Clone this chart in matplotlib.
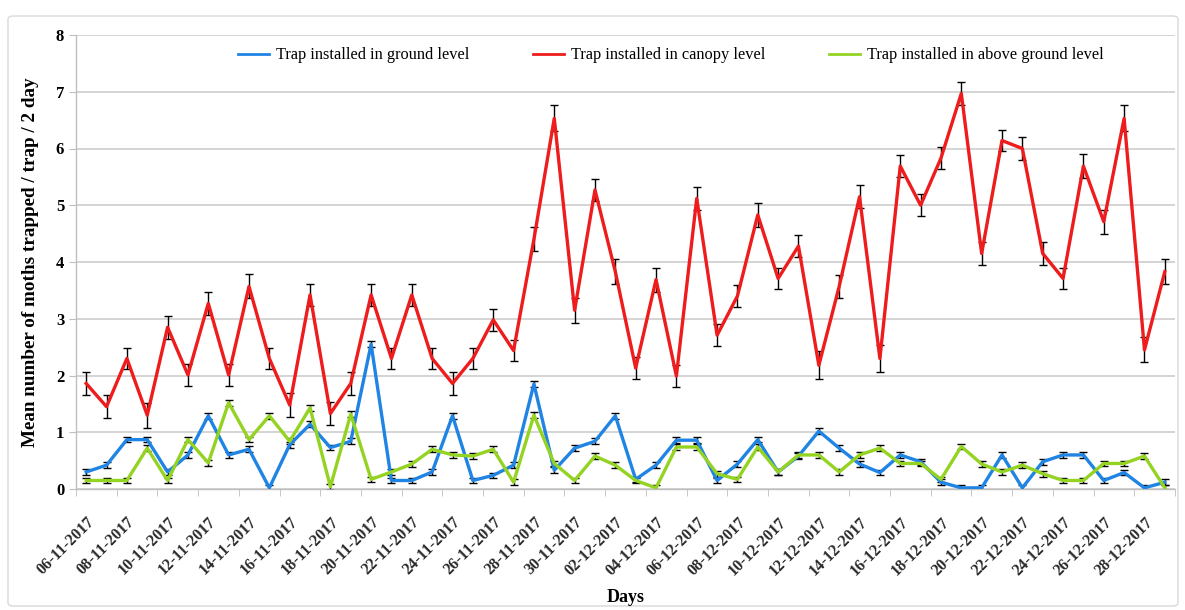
import numpy as np
import matplotlib
matplotlib.use("Agg")
import matplotlib.pyplot as plt
from matplotlib.patches import FancyBboxPatch
from matplotlib.lines import Line2D
import datetime as dt

# ---- data ----
start = dt.date(2017, 11, 6)
days = [(start + dt.timedelta(days=i)).strftime("%d-%m-%Y") for i in range(54)]

ground = [0.30, 0.42, 0.87, 0.87, 0.30, 0.60, 1.29, 0.60, 0.70, 0.02,
          0.78, 1.14, 0.73, 0.84, 2.55, 0.15, 0.15, 0.30, 1.29, 0.15,
          0.24, 0.42, 1.85, 0.33, 0.72, 0.84, 1.29, 0.17, 0.42, 0.86,
          0.86, 0.15, 0.44, 0.87, 0.30, 0.58, 1.02, 0.72, 0.44, 0.29,
          0.60, 0.48, 0.12, 0.02, 0.02, 0.60, 0.02, 0.48, 0.60, 0.60,
          0.15, 0.29, 0.02, 0.12]
canopy = [1.86, 1.45, 2.30, 1.30, 2.85, 2.01, 3.27, 2.01, 3.57, 2.30,
          1.48, 3.42, 1.33, 1.86, 3.42, 2.30, 3.42, 2.30, 1.86, 2.30,
          2.98, 2.44, 4.40, 6.53, 3.15, 5.27, 3.83, 2.13, 3.69, 1.99,
          5.12, 2.71, 3.40, 4.83, 3.71, 4.28, 2.18, 3.57, 5.15, 2.30,
          5.69, 5.00, 5.83, 6.97, 4.15, 6.14, 6.00, 4.15, 3.71, 5.69,
          4.71, 6.53, 2.45, 3.83]
above = [0.15, 0.15, 0.15, 0.72, 0.15, 0.87, 0.46, 1.52, 0.87, 1.29,
         0.84, 1.43, 0.04, 1.32, 0.17, 0.30, 0.44, 0.70, 0.60, 0.58,
         0.70, 0.12, 1.30, 0.45, 0.15, 0.58, 0.42, 0.15, 0.02, 0.74,
         0.74, 0.27, 0.17, 0.74, 0.30, 0.60, 0.60, 0.30, 0.60, 0.72,
         0.45, 0.45, 0.17, 0.75, 0.44, 0.30, 0.42, 0.27, 0.15, 0.15,
         0.45, 0.45, 0.58, 0.02]
canopy_err = [0.20, 0.20, 0.19, 0.22, 0.20, 0.19, 0.20, 0.20, 0.21, 0.19,
              0.22, 0.20, 0.21, 0.20, 0.20, 0.19, 0.20, 0.19, 0.21, 0.19,
              0.20, 0.19, 0.21, 0.23, 0.22, 0.20, 0.22, 0.19, 0.21, 0.20,
              0.21, 0.19, 0.20, 0.21, 0.19, 0.19, 0.25, 0.20, 0.20, 0.24,
              0.20, 0.19, 0.20, 0.20, 0.21, 0.19, 0.20, 0.20, 0.19, 0.21,
              0.21, 0.23, 0.22, 0.22]
ground_err = [0.05] * 54
above_err = [0.05] * 54

labels = ["Trap installed in ground level",
          "Trap installed in canopy level",
          "Trap installed in above ground level"]
colors = ["#1f84e3", "#ee1c1c", "#95d322"]

# ---- plot ----
plt.rcParams['font.family'] = ['Liberation Serif', 'DejaVu Serif']
W, H = 1185, 610
fig = plt.figure(figsize=(W / 100, H / 100), dpi=100)
fig.patches.append(FancyBboxPatch((8 / W, 4 / H), 1170 / W, 590 / H,
                                  boxstyle="round,pad=0,rounding_size=0.005",
                                  transform=fig.transFigure, fill=False,
                                  edgecolor="#d9d9d9", lw=1.0))
ax = fig.add_axes([76 / W, 1 - 489 / H, 1099 / W, 454 / H])

x = np.arange(len(days))
handles = []
for vals, err, lab, c in zip([ground, canopy, above],
                             [ground_err, canopy_err, above_err],
                             labels, colors):
    ax.errorbar(x, vals, yerr=err, color=c, lw=2.4, ecolor="black",
                elinewidth=1.0, capsize=3, capthick=1.0, zorder=3)
    handles.append(Line2D([], [], color=c, lw=2.0, label=lab))

ax.set_xlim(-0.5, len(days) - 0.5)
ax.set_ylim(0, 8)
ax.set_yticks(range(0, 9))
ax.yaxis.grid(True, color="#d4d4d4", lw=1.4)
ax.set_axisbelow(True)
for s in ["top", "right"]:
    ax.spines[s].set_visible(False)
for s in ["left", "bottom"]:
    ax.spines[s].set_color("#bfbfbf")
    ax.spines[s].set_linewidth(1.0)

ax.set_xticks(x[::2])
ax.set_xticklabels(days[::2], rotation=45, ha="right", rotation_mode="anchor",
                   fontsize=11.5, fontweight="bold", color="#2a2a2a")
ax.set_xticks(np.arange(-0.5, len(days), 2), minor=True)
ax.tick_params(axis="x", which="major", length=0, pad=18)
ax.tick_params(axis="x", which="minor", length=5, color="#bfbfbf")
ax.tick_params(axis="y", length=5, color="#bfbfbf", labelsize=12)
for t in ax.get_yticklabels():
    t.set_fontweight("bold")

ax.set_ylabel("Mean number of moths trapped / trap / 2 day", fontsize=13.8,
              fontweight="bold", labelpad=12)
fig.text(626 / W, 1 - 598 / H, "Days", fontsize=13, fontweight="bold",
         ha="center", va="center")

leg = ax.legend(handles=handles, loc="center", bbox_to_anchor=(0.541, 0.955),
                ncol=3, frameon=False, fontsize=11.8, handlelength=1.9,
                columnspacing=3.9, handletextpad=0.4)

fig.savefig("out.png", dpi=100)
